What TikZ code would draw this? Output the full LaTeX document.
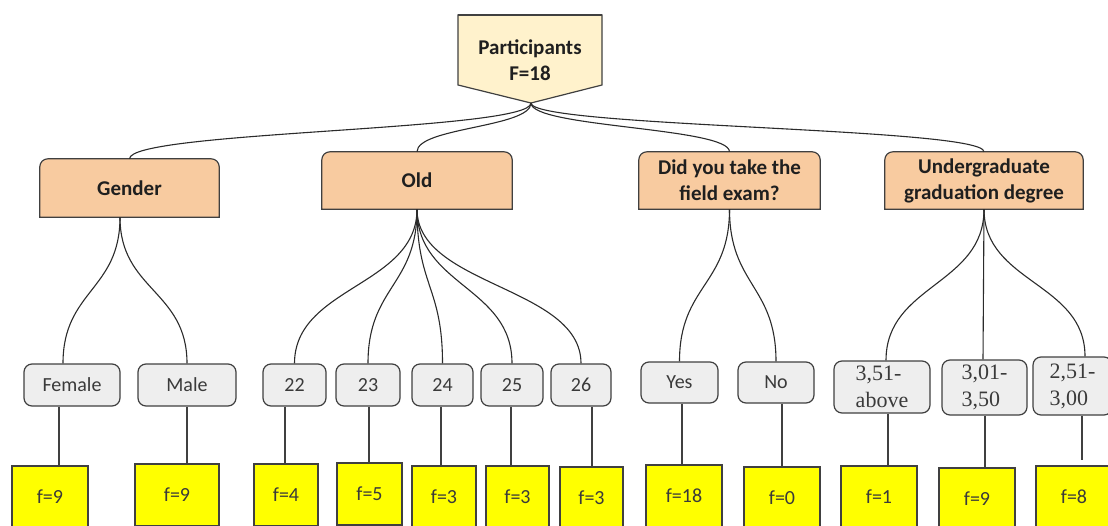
\documentclass[tikz,border=0pt]{standalone}
\usepackage{fontspec}
\setmainfont{Carlito}
\newfontfamily\tnr{Liberation Serif}
\usetikzlibrary{calc}
\definecolor{topfill}{HTML}{FFF2CC}
\definecolor{catfill}{HTML}{F8CBA0}
\definecolor{leaffill}{HTML}{EEEEEE}
\definecolor{yel}{HTML}{FFFF00}
\definecolor{edge}{HTML}{404040}
\definecolor{wire}{HTML}{2B2B2B}
\definecolor{txt}{HTML}{3A3A3A}
\pgfdeclarelayer{bg}
\pgfsetlayers{bg,main}
\tikzset{
  conn/.style={draw=wire, line width=1.1pt},
  catshape/.style={fill=catfill, draw=edge, line width=1.2pt},
  cat/.style={inner sep=0pt, minimum height=57pt, align=center, text=black!88,
    font=\bfseries\fontsize{21}{26}\selectfont},
  leaf/.style={draw=edge, fill=leaffill, rounded corners=8pt, line width=1.2pt,
    inner sep=0pt, text=txt, align=center, font=\fontsize{20}{24}\selectfont},
  sleaf/.style={leaf, align=left, font=\tnr\fontsize{22}{27}\selectfont},
  ybox/.style={draw=edge, fill=yel, line width=1.2pt, inner sep=0pt,
    minimum height=62pt, text=txt, font=\fontsize{20}{24}\selectfont},
}
\newcommand\roundtop[1]{%
  \begin{pgfonlayer}{bg}
  \path[catshape] (#1.south west) -- ([yshift=-8pt]#1.north west)
    arc[start angle=180,end angle=90,radius=8pt]
    -- ([xshift=-8pt]#1.north east)
    arc[start angle=90,end angle=0,radius=8pt]
    -- (#1.south east) -- cycle;
  \end{pgfonlayer}}
\begin{document}
\begin{tikzpicture}[x=1pt,y=-1pt]
\useasboundingbox (0,0) rectangle (1108,525);
\clip (0,0) rectangle (1108,525);

% top node
\coordinate (tnw) at (458,15);
\coordinate (tne) at (602,15);
\coordinate (tse) at (602,85);
\coordinate (tsw) at (458,85);
\coordinate (tip) at (531,103);
\path[fill=topfill, draw=edge, line width=1.2pt] (tnw) -- (tne) -- (tse) -- (tip) -- (tsw) -- cycle;
\draw[edge, line width=2pt] (tnw) -- (tne);
\node[cat, minimum height=0pt] (top) at (530,60) {Participants\\F=18};

% categories
\node[cat, minimum width=179pt, minimum height=58pt] (gender) at (129.5,188) {Gender};
\node[cat, minimum width=190pt] (old) at (417,180.5) {Old};
\node[cat, minimum width=181pt] (field) at (729.5,180.5) {Did you take the\\field exam?};
\node[cat, minimum width=198pt] (under) at (984,180.5) {Undergraduate\\graduation degree};
\roundtop{gender}\roundtop{old}\roundtop{field}\roundtop{under}

% leaves
\node[leaf, minimum width=96pt, minimum height=42pt] (female) at (72,385) {Female};
\node[leaf, minimum width=98pt, minimum height=42pt] (male) at (187,385) {Male};
\node[leaf, minimum width=63pt, minimum height=42pt] (a22) at (294.5,385) {22};
\node[leaf, minimum width=64pt, minimum height=42pt] (a23) at (368,385) {23};
\node[leaf, minimum width=61pt, minimum height=42pt] (a24) at (442.5,385) {24};
\node[leaf, minimum width=62pt, minimum height=42pt] (a25) at (512,385) {25};
\node[leaf, minimum width=60pt, minimum height=42pt] (a26) at (581,385) {26};
\node[leaf, minimum width=77pt, minimum height=41pt] (yes) at (679.5,382.5) {Yes};
\node[leaf, minimum width=76pt, minimum height=41pt] (no) at (776,382.5) {No};
\node[sleaf, minimum width=96pt, minimum height=52pt] (g1) at (882,387) {3,51-\\above};
\node[sleaf, minimum width=85pt, minimum height=55pt] (g2) at (984.5,387.5) {3,01-\\3,50};
\node[sleaf, minimum width=79pt, minimum height=58pt] (g3) at (1072.5,386) {2,51-\\3,00};

% frequency boxes
\node[ybox, minimum width=76pt] (f1) at (50,497) {f=9};
\node[ybox, minimum width=84pt] (f2) at (177,495) {f=9};
\node[ybox, minimum width=64pt] (f3) at (286,495) {f=4};
\node[ybox, minimum width=65pt] (f4) at (369.5,494) {f=5};
\node[ybox, minimum width=64pt] (f5) at (444,497) {f=3};
\node[ybox, minimum width=63pt] (f6) at (517.5,497) {f=3};
\node[ybox, minimum width=63pt] (f7) at (591.5,498) {f=3};
\node[ybox, minimum width=76pt] (f8) at (684,496) {f=18};
\node[ybox, minimum width=76pt] (f9) at (782,498) {f=0};
\node[ybox, minimum width=76pt] (f10) at (879,497) {f=1};
\node[ybox, minimum width=76pt] (f11) at (977,499) {f=9};
\node[ybox, minimum width=76pt] (f12) at (1074,497) {f=8};

% top connectors
\draw[conn] (tip) .. controls +(0,28) and +(0,-28) .. (gender.north);
\draw[conn] (tip) .. controls +(0,24.5) and +(0,-24.5) .. (old.north);
\draw[conn] (tip) .. controls +(0,24.5) and +(0,-24.5) .. (field.north);
\draw[conn] (tip) .. controls +(0,24.5) and +(0,-24.5) .. (under.north);

% category to leaves
\coordinate (gb) at ([xshift=-9.5pt]gender.south);
\draw[conn] (gb) .. controls +(0,73) and +(0,-73) .. ([xshift=-9pt]female.north);
\draw[conn] (gb) .. controls +(0,73) and +(0,-73) .. (male.north);
\foreach \n in {a22,a23,a24,a25,a26}
  \draw[conn] (old.south) .. controls +(0,77) and +(0,-77) .. (\n.north);
\foreach \n in {yes,no}
  \draw[conn] (field.south) .. controls +(0,76) and +(0,-76) .. (\n.north);
\draw[conn] (under.south) .. controls +(0,76) and +(0,-76) .. ([xshift=4pt]g1.north);
\draw[conn] (under.south) -- ([xshift=-1.5pt]g2.north);
\draw[conn] (under.south) .. controls +(0,74) and +(0,-74) .. ([xshift=12.5pt]g3.north);

% leaves to frequency boxes
\foreach \l/\f/\d in {female/f1/-13, male/f2/0, a22/f3/-9.5, a23/f4/1, a24/f5/-1.5,
    a25/f6/-1, a26/f7/11, yes/f8/2.5, no/f9/6, g1/f10/6, g2/f11/0.5}{
  \coordinate (s) at ([xshift=\d pt]\l.south);
  \draw[conn, draw=edge] (s) -- (s |- \f.north);
}
\coordinate (s12) at ([xshift=9.5pt]g3.south);
\coordinate (e12) at ($(s12 |- f12.north)+(0,-5)$);
\draw[conn, draw=edge] (s12) -- (e12);
\end{tikzpicture}
\end{document}
